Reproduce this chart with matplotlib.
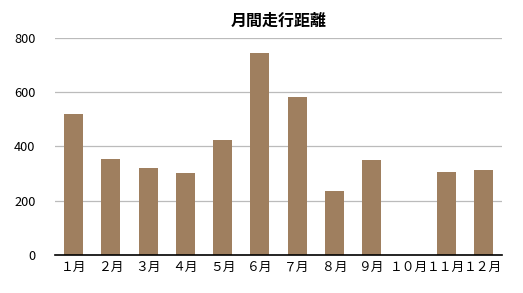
import matplotlib
matplotlib.use("Agg")
import matplotlib.pyplot as plt
import numpy as np

plt.rcParams['font.family'] = ['Noto Sans CJK JP', 'DejaVu Sans']

# monthly distance
months = ["１月", "２月", "３月", "４月", "５月", "６月",
          "７月", "８月", "９月", "１０月", "１１月", "１２月"]
distance = [520, 354, 321, 302, 424, 746, 582, 236, 350, 0, 306, 313]
yticks = [0, 200, 400, 600, 800]

fig = plt.figure(figsize=(5.23, 2.93), dpi=100)
ax = fig.add_axes([0.105, 0.1297, 0.855, 0.7406])

x = np.arange(len(months))
ax.bar(x, distance, width=0.51, color="#9f7f5f", zorder=3)

ax.set_xlim(-0.5, len(months) - 0.5)
ax.set_ylim(0, 800)
ax.set_yticks(yticks)
ax.set_xticks(x)
ax.set_xticklabels(months, fontsize=9.2)
ax.tick_params(axis="y", labelsize=9.2, length=0, pad=14)
ax.tick_params(axis="x", length=0, pad=4)
ax.grid(axis="y", color="#bbbbbb", linewidth=0.9, zorder=0)

for s in ["left", "right", "top"]:
    ax.spines[s].set_visible(False)
ax.spines["bottom"].set_color("black")
ax.spines["bottom"].set_linewidth(1.2)
ax.spines["bottom"].set_zorder(4)

ax.set_title("月間走行距離", fontsize=11.5, fontweight="bold", pad=9)

fig.savefig("out.png", dpi=100)
